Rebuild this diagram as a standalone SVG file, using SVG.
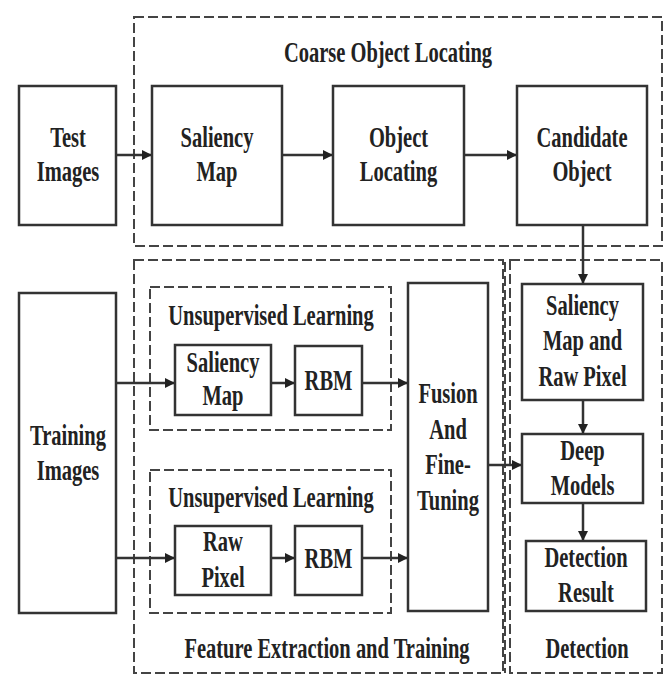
<svg xmlns="http://www.w3.org/2000/svg" width="668" height="675" viewBox="0 0 668 675">
<style>
.box{fill:#fff;stroke:#333;stroke-width:2.5}
.dash{fill:none;stroke:#444;stroke-width:2;stroke-dasharray:10 4}
.conn{stroke:#333;stroke-width:2.5;fill:none}
text{font-family:"Liberation Serif","Times New Roman",serif;font-weight:bold;font-size:20.5px;fill:#222;text-anchor:middle}
</style>
<defs>
<marker id="ah" viewBox="0 0 10 10" refX="10" refY="5" markerWidth="4.5" markerHeight="4" markerUnits="strokeWidth" orient="auto">
<path d="M0,0 L10,5 L0,10 z" fill="#222"/>
</marker>
</defs>
<rect width="668" height="675" fill="#fff"/>
<g id="groups">
<rect id="coarse" class="dash" x="134" y="17" width="528" height="229"/>
<rect id="feature" class="dash" x="134" y="260" width="369" height="413"/>
<rect id="detection" class="dash" x="510" y="260" width="152" height="413"/>
<line class="dash" x1="505" y1="262" x2="505" y2="673"/>
<rect id="unsup1" class="dash" x="150" y="287" width="241" height="143"/>
<rect id="unsup2" class="dash" x="150" y="470" width="241" height="143"/>
<text transform="translate(388,62) scale(1,1.4)">Coarse Object Locating</text>
<text transform="translate(271,325) scale(1,1.4)">Unsupervised Learning</text>
<text transform="translate(271,507) scale(1,1.4)">Unsupervised Learning</text>
<text transform="translate(327,658) scale(1,1.4)">Feature Extraction and Training</text>
<text transform="translate(587,658) scale(1,1.4)">Detection</text>
</g>
<g id="connectors">
<line class="conn" x1="116" y1="155" x2="152" y2="155" marker-end="url(#ah)"/>
<line class="conn" x1="282" y1="155" x2="333" y2="155" marker-end="url(#ah)"/>
<line class="conn" x1="464" y1="155" x2="517" y2="155" marker-end="url(#ah)"/>
<line class="conn" x1="583" y1="225" x2="583" y2="284" marker-end="url(#ah)"/>
<line class="conn" x1="116" y1="383" x2="175" y2="383" marker-end="url(#ah)"/>
<line class="conn" x1="271" y1="383" x2="295" y2="383" marker-end="url(#ah)"/>
<line class="conn" x1="362" y1="383" x2="408" y2="383" marker-end="url(#ah)"/>
<line class="conn" x1="116" y1="558" x2="175" y2="558" marker-end="url(#ah)"/>
<line class="conn" x1="271" y1="558" x2="295" y2="558" marker-end="url(#ah)"/>
<line class="conn" x1="362" y1="558" x2="408" y2="558" marker-end="url(#ah)"/>
<line class="conn" x1="488" y1="465" x2="522" y2="465" marker-end="url(#ah)"/>
<line class="conn" x1="583" y1="400" x2="583" y2="434" marker-end="url(#ah)"/>
<line class="conn" x1="583" y1="503" x2="583" y2="541" marker-end="url(#ah)"/>
</g>
<g id="test-images">
<rect class="box" x="19" y="86" width="97" height="139"/>
<text transform="translate(68,147) scale(1,1.4)">Test</text>
<text transform="translate(68,181) scale(1,1.4)">Images</text>
</g>
<g id="saliency-map">
<rect class="box" x="152" y="86" width="130" height="139"/>
<text transform="translate(217,147) scale(1,1.4)">Saliency</text>
<text transform="translate(217,181) scale(1,1.4)">Map</text>
</g>
<g id="object-locating">
<rect class="box" x="333" y="86" width="131" height="139"/>
<text transform="translate(398.5,147) scale(1,1.4)">Object</text>
<text transform="translate(398.5,181) scale(1,1.4)">Locating</text>
</g>
<g id="candidate-object">
<rect class="box" x="517" y="86" width="130" height="139"/>
<text transform="translate(582,147) scale(1,1.4)">Candidate</text>
<text transform="translate(582,181) scale(1,1.4)">Object</text>
</g>
<g id="training-images">
<rect class="box" x="19" y="293" width="97" height="320"/>
<text transform="translate(68,445) scale(1,1.4)">Training</text>
<text transform="translate(68,480) scale(1,1.4)">Images</text>
</g>
<g id="saliency-map-2">
<rect class="box" x="175" y="345" width="96" height="70"/>
<text transform="translate(223,372) scale(1,1.4)">Saliency</text>
<text transform="translate(223,405) scale(1,1.4)">Map</text>
</g>
<g id="rbm-1">
<rect class="box" x="295" y="346" width="67" height="69"/>
<text transform="translate(328.5,390) scale(1,1.4)">RBM</text>
</g>
<g id="raw-pixel">
<rect class="box" x="175" y="526" width="96" height="69"/>
<text transform="translate(223,551) scale(1,1.4)">Raw</text>
<text transform="translate(223,587) scale(1,1.4)">Pixel</text>
</g>
<g id="rbm-2">
<rect class="box" x="295" y="526" width="67" height="69"/>
<text transform="translate(328.5,568) scale(1,1.4)">RBM</text>
</g>
<g id="fusion">
<rect class="box" x="408" y="283" width="80" height="328"/>
<text transform="translate(448,403) scale(1,1.4)">Fusion</text>
<text transform="translate(448,439) scale(1,1.4)">And</text>
<text transform="translate(448,474) scale(1,1.4)">Fine-</text>
<text transform="translate(448,510) scale(1,1.4)">Tuning</text>
</g>
<g id="saliency-raw">
<rect class="box" x="522" y="284" width="121" height="116"/>
<text transform="translate(582.5,315) scale(1,1.4)">Saliency</text>
<text transform="translate(582.5,350) scale(1,1.4)">Map and</text>
<text transform="translate(582.5,386) scale(1,1.4)">Raw Pixel</text>
</g>
<g id="deep-models">
<rect class="box" x="522" y="434" width="121" height="69"/>
<text transform="translate(582.5,460) scale(1,1.4)">Deep</text>
<text transform="translate(582.5,495) scale(1,1.4)">Models</text>
</g>
<g id="detection-result">
<rect class="box" x="526" y="541" width="120" height="70"/>
<text transform="translate(586,567) scale(1,1.4)">Detection</text>
<text transform="translate(586,602) scale(1,1.4)">Result</text>
</g>
</svg>
